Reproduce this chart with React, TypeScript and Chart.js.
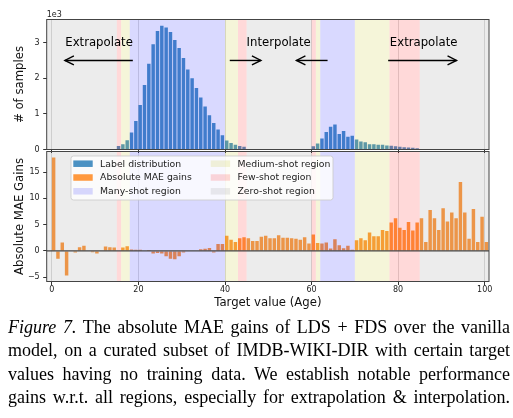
import React, { useEffect, useRef } from "react";
import { Chart, registerables } from "chart.js";

Chart.register(...registerables);

const FONT = "'DejaVu Sans', sans-serif";
Chart.defaults.font.family = FONT;
Chart.defaults.color = "#222";

// ---------- data ----------
const ages = Array.from({ length: 101 }, (_, i) => i); // target values 0..100

const labelCounts = [
  0, 0, 0, 0, 0, 0, 0, 0, 0, 0,
  0, 0, 0, 0, 0, 95, 150, 263, 474, 803,
  1252, 1810, 2410, 2955, 3325, 3472, 3425, 3298, 3072, 2852,
  2570, 2245, 2000, 1730, 1460, 1210, 960, 745, 560, 400,
  255, 180, 130, 97, 78, 0, 0, 0, 0, 0,
  0, 0, 0, 0, 0, 0, 0, 0, 0, 0,
  94, 169, 310, 488, 638, 704, 432, 516, 357, 385,
  282, 225, 207, 150, 150, 131, 131, 113, 103, 94,
  75, 66, 56, 47, 38, 0, 0, 0, 0, 0,
  0, 0, 0, 0, 0, 0, 0, 0, 0, 0,
  0,
];

const maeGains = [
  17.8, -1.5, 1.6, -4.7, 0, -0.3, 0.7, 1.0, 0, -0.25,
  -0.5, 0, 0.85, 0.7, 0.65, 0, 0.65, 0.9, 0.25, 0.2,
  0.2, 0, 0.15, -0.5, -0.4, -0.5, -1.0, -1.5, -1.6, -1.0,
  -0.3, -0.1, 0.1, 0.1, 0.3, 0.4, 0.55, -0.3, 1.3, 1.3,
  2.9, 2.1, 1.7, 2.4, 2.6, 2.4, 1.9, 1.9, 2.7, 2.9,
  2.4, 2.4, 3.0, 2.5, 2.5, 2.4, 2.3, 2.1, 2.6, 1.4,
  3.1, 1.5, 1.4, 1.6, 0.45, 2.2, 1.1, 0.5, 1.0, 0.2,
  2.05, 2.4, 2.05, 3.5, 2.8, 2.8, 4.0, 3.8, 5.4, 6.2,
  4.4, 4.0, 5.5, 3.9, 5.4, 6.2, 1.7, 7.8, 6.2, 4.0,
  8.1, 5.6, 7.3, 6.2, 13.1, 7.3, 2.3, 8.0, 1.7, 6.5,
  1.7,
];

const BAR_WIDTH = 0.8; // bars aligned at their left edge (matplotlib align="edge")

const xTicks = [0, 20, 40, 60, 80, 100];
const xMin = -1.2;
const xMax = 101;

const countTicks = [0, 1000, 2000, 3000];
const countTickLabels = ["0", "1", "2", "3"];
const countMax = 3650;

const maeTicks = [-5, 0, 5, 10, 15];
const maeTickLabels = ["\u22125", "0", "5", "10", "15"];
const maeMin = -5.825;
const maeMax = 18.925;

const regionKinds = ["zero", "few", "medium", "many", "medium", "few", "zero", "few", "medium", "many", "medium", "few", "zero"];
const regionStarts = [xMin, 15, 16, 18, 40, 43, 45, 60, 61, 62, 70, 78, 85];
const regionEnds = [15, 16, 18, 40, 43, 45, 60, 61, 62, 70, 78, 85, xMax];

const annotationTexts = ["Extrapolate", "Interpolate", "Extrapolate"];
const annotationX = [10.9, 52.4, 85.9];
const annotationY = 3000;
const arrowFrom = [18.7, 41.1, 63.7, 77.7];
const arrowTo = [3.0, 48.3, 56.5, 93.5];
const arrowY = 2500;

const legendLabels = ["Label distribution", "Absolute MAE gains", "Many-shot region", "Medium-shot region", "Few-shot region", "Zero-shot region"];

const captionLines = [
  "The absolute MAE gains of LDS + FDS over the vanilla",
  "model, on a curated subset of IMDB-WIKI-DIR with certain target",
  "values having no training data. We establish notable performance",
  "gains w.r.t. all regions, especially for extrapolation & interpolation.",
];

// ---------- styles ----------
const COUNT_COLOR = "rgba(31,119,180,0.8)";
const MAE_COLOR = "rgba(255,127,14,0.8)";
const REGION_COLORS: Record<string, string> = {
  many: "rgba(0,0,255,0.15)",
  medium: "rgba(191,191,0,0.15)",
  few: "rgba(255,0,0,0.15)",
  zero: "rgba(128,128,128,0.15)",
};
const legendColors = [COUNT_COLOR, MAE_COLOR, REGION_COLORS.many, REGION_COLORS.medium, REGION_COLORS.few, REGION_COLORS.zero];

const W = 513;
const PLOT_LEFT = 46.7;
const PLOT_RIGHT_PAD = 24;
const TITLE_SIZE = 11.7;

function drawRegions(chart: any) {
  const { ctx, chartArea: a, scales } = chart;
  const x = scales.x;
  ctx.save();
  regionKinds.forEach((k, i) => {
    const x0 = Math.max(x.getPixelForValue(regionStarts[i]), a.left);
    const x1 = Math.min(x.getPixelForValue(regionEnds[i]), a.right);
    ctx.fillStyle = REGION_COLORS[k];
    ctx.fillRect(x0, a.top, x1 - x0, a.bottom - a.top);
  });
  ctx.restore();
}

function drawSpines(chart: any) {
  const { ctx, chartArea: a } = chart;
  ctx.save();
  ctx.strokeStyle = "#444";
  ctx.lineWidth = 1;
  ctx.strokeRect(a.left, a.top, a.right - a.left, a.bottom - a.top);
  ctx.restore();
}

function drawArrow(ctx: CanvasRenderingContext2D, x0: number, y: number, x1: number) {
  const dir = Math.sign(x1 - x0);
  ctx.beginPath();
  ctx.moveTo(x0, y);
  ctx.lineTo(x1, y);
  ctx.stroke();
  ctx.beginPath();
  ctx.moveTo(x1 - dir * 9, y - 4.5);
  ctx.lineTo(x1, y);
  ctx.lineTo(x1 - dir * 9, y + 4.5);
  ctx.stroke();
}

const topDecor = {
  id: "topDecor",
  afterDatasetsDraw(chart: any) {
    drawRegions(chart);
  },
  afterDraw(chart: any) {
    const { ctx, chartArea: a, scales } = chart;
    drawSpines(chart);
    ctx.save();
    ctx.fillStyle = "#222";
    ctx.font = `8px ${FONT}`;
    ctx.textAlign = "left";
    ctx.textBaseline = "alphabetic";
    ctx.fillText("1e3", a.left, a.top - 3);
    ctx.fillStyle = "#000";
    ctx.font = `${TITLE_SIZE}px ${FONT}`;
    ctx.textAlign = "center";
    ctx.textBaseline = "middle";
    annotationTexts.forEach((t, i) => {
      ctx.fillText(t, scales.x.getPixelForValue(annotationX[i]), scales.y.getPixelForValue(annotationY));
    });
    ctx.strokeStyle = "#000";
    ctx.lineWidth = 1.4;
    ctx.lineCap = "butt";
    ctx.lineJoin = "miter";
    const ay = scales.y.getPixelForValue(arrowY);
    arrowFrom.forEach((f, i) => {
      drawArrow(ctx, scales.x.getPixelForValue(f), ay, scales.x.getPixelForValue(arrowTo[i]));
    });
    ctx.restore();
  },
};

const bottomDecor = {
  id: "bottomDecor",
  afterDatasetsDraw(chart: any) {
    drawRegions(chart);
  },
  afterDraw(chart: any) {
    const { ctx, chartArea: a, scales } = chart;
    ctx.save();
    const y0 = scales.y.getPixelForValue(0);
    ctx.strokeStyle = "#444";
    ctx.lineWidth = 1.3;
    ctx.beginPath();
    ctx.moveTo(a.left, y0);
    ctx.lineTo(a.right, y0);
    ctx.stroke();
    ctx.restore();
    drawSpines(chart);

    // legend
    ctx.save();
    const bx = a.left + 24.3;
    const by = a.top + 4.5;
    const bw = 262;
    const bh = 44;
    const r = 2.5;
    ctx.beginPath();
    ctx.moveTo(bx + r, by);
    ctx.lineTo(bx + bw - r, by);
    ctx.quadraticCurveTo(bx + bw, by, bx + bw, by + r);
    ctx.lineTo(bx + bw, by + bh - r);
    ctx.quadraticCurveTo(bx + bw, by + bh, bx + bw - r, by + bh);
    ctx.lineTo(bx + r, by + bh);
    ctx.quadraticCurveTo(bx, by + bh, bx, by + bh - r);
    ctx.lineTo(bx, by + r);
    ctx.quadraticCurveTo(bx, by, bx + r, by);
    ctx.closePath();
    ctx.fillStyle = "rgba(255,255,255,0.8)";
    ctx.fill();
    ctx.strokeStyle = "rgba(200,200,200,0.8)";
    ctx.lineWidth = 1;
    ctx.stroke();
    ctx.font = `9.3px ${FONT}`;
    ctx.textAlign = "left";
    ctx.textBaseline = "middle";
    legendLabels.forEach((lab, i) => {
      const col = Math.floor(i / 3);
      const row = i % 3;
      const px = bx + 2.3 + col * 137.4;
      const cy = by + 7.7 + row * 13.8;
      ctx.fillStyle = legendColors[i];
      ctx.fillRect(px, cy - 3.25, 19.4, 6.5);
      ctx.fillStyle = "#222";
      ctx.fillText(lab, px + 26.8, cy + 0.5);
    });
    ctx.restore();
  },
};

function xScale(showLabels: boolean, height: number, title?: string) {
  return {
    type: "linear" as const,
    min: xMin,
    max: xMax,
    offset: false,
    afterBuildTicks: (s: any) => {
      s.ticks = xTicks.map((v) => ({ value: v }));
    },
    afterFit: (s: any) => {
      s.height = height;
      s.paddingLeft = 0;
      s.paddingRight = 0;
    },
    ticks: {
      display: showLabels,
      padding: 0.5,
      font: { size: 8 },
      color: "#222",
      maxRotation: 0,
      autoSkip: false,
      callback: (v: any) => String(v),
    },
    grid: {
      display: true,
      offset: false,
      drawOnChartArea: true,
      color: "rgba(0,0,0,0.14)",
      lineWidth: 1,
      drawTicks: true,
      tickLength: 3.5,
      tickColor: "#333",
    },
    border: { display: false },
    title: title
      ? { display: true, text: title, font: { size: TITLE_SIZE }, color: "#111", padding: { top: 0, bottom: 5 } }
      : { display: false },
  };
}

function yScale(min: number, max: number, ticks: number[], labels: string[], title: string) {
  return {
    type: "linear" as const,
    min,
    max,
    afterBuildTicks: (s: any) => {
      s.ticks = ticks.map((v) => ({ value: v }));
    },
    afterFit: (s: any) => {
      s.width = PLOT_LEFT;
      s.paddingTop = 0;
      s.paddingBottom = 0;
    },
    ticks: {
      padding: 3.5,
      font: { size: 8 },
      color: "#222",
      autoSkip: false,
      callback: (v: any) => labels[ticks.indexOf(Number(v))] ?? "",
    },
    grid: {
      display: true,
      drawOnChartArea: false,
      drawTicks: true,
      tickLength: 3.5,
      tickColor: "#333",
    },
    border: { display: false },
    title: { display: true, text: title, font: { size: TITLE_SIZE }, color: "#111", padding: { top: 12.5, bottom: 0 } },
  };
}

const TOP_H = 156;
const BOTTOM_TOP = 140;
const BOTTOM_H = 175;

export default function App() {
  const topRef = useRef<HTMLCanvasElement | null>(null);
  const bottomRef = useRef<HTMLCanvasElement | null>(null);

  useEffect(() => {
    if (!topRef.current || !bottomRef.current) return;
    const top = new Chart(topRef.current, {
      type: "bar",
      data: {
        datasets: [
          {
            label: legendLabels[0],
            data: ages.map((a, i) => ({ x: a + BAR_WIDTH / 2, y: labelCounts[i] })),
            backgroundColor: COUNT_COLOR,
            borderWidth: 0,
            barPercentage: BAR_WIDTH,
            categoryPercentage: 1,
          },
        ],
      },
      options: {
        responsive: false,
        animation: false,
        devicePixelRatio: 1,
        layout: { padding: { left: 0, right: PLOT_RIGHT_PAD, top: 19.5, bottom: 0 } },
        plugins: { legend: { display: false }, tooltip: { enabled: false } },
        scales: {
          x: xScale(false, TOP_H - 149.5),
          y: yScale(0, countMax, countTicks, countTickLabels, "# of samples"),
        },
      } as any,
      plugins: [topDecor],
    });

    const bottom = new Chart(bottomRef.current, {
      type: "bar",
      data: {
        datasets: [
          {
            label: legendLabels[1],
            data: ages.map((a, i) => ({ x: a + BAR_WIDTH / 2, y: maeGains[i] })),
            backgroundColor: MAE_COLOR,
            borderWidth: 0,
            barPercentage: BAR_WIDTH,
            categoryPercentage: 1,
          },
        ],
      },
      options: {
        responsive: false,
        animation: false,
        devicePixelRatio: 1,
        layout: { padding: { left: 0, right: PLOT_RIGHT_PAD, top: 151.5 - BOTTOM_TOP, bottom: 0 } },
        plugins: { legend: { display: false }, tooltip: { enabled: false } },
        scales: {
          x: xScale(true, BOTTOM_H - (281.5 - BOTTOM_TOP), "Target value (Age)"),
          y: yScale(maeMin, maeMax, maeTicks, maeTickLabels, "Absolute MAE Gains"),
        },
      } as any,
      plugins: [bottomDecor],
    });

    return () => {
      top.destroy();
      bottom.destroy();
    };
  }, []);

  let captionSize = 16.8;
  if (typeof document !== "undefined") {
    const c = document.createElement("canvas").getContext("2d");
    if (c) {
      c.font = "100px 'Liberation Serif'";
      const w = c.measureText(captionLines[3]).width;
      if (w > 0) captionSize = Math.min(18, (100 * 499) / w);
    }
  }

  const lineStyle: React.CSSProperties = {
    textAlign: "justify",
    textAlignLast: "justify" as any,
    height: 23.4,
    lineHeight: "23.4px",
    overflow: "visible",
  };

  return (
    <div
      style={{
        position: "fixed",
        left: 0,
        top: 0,
        width: W,
        height: 418,
        background: "#fff",
        overflow: "hidden",
      }}
    >
      <canvas ref={topRef} width={W} height={TOP_H} style={{ position: "absolute", left: 0, top: 0, width: W, height: TOP_H }} />
      <canvas
        ref={bottomRef}
        width={W}
        height={BOTTOM_H}
        style={{ position: "absolute", left: 0, top: BOTTOM_TOP, width: W, height: BOTTOM_H }}
      />
      <div
        style={{
          position: "absolute",
          left: 8,
          top: 316,
          width: 502,
          fontFamily: "'Liberation Serif', 'Times New Roman', serif",
          fontSize: captionSize,
          color: "#000",
        }}
      >
        <div style={lineStyle}>
          <i>Figure 7.</i> {captionLines[0]}
        </div>
        <div style={lineStyle}>{captionLines[1]}</div>
        <div style={lineStyle}>{captionLines[2]}</div>
        <div style={lineStyle}>{captionLines[3]}</div>
      </div>
    </div>
  );
}
